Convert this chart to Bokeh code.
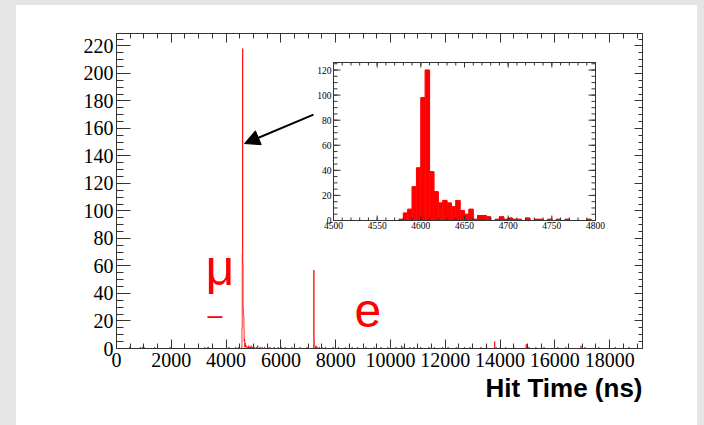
import numpy as np
from bokeh.plotting import figure
from bokeh.layouts import row, column
from bokeh.models import (LinearAxis, FixedTicker, Arrow, NormalHead, Label,
                          Title, Spacer, Range1d)
from bokeh.embed import file_html
from bokeh.resources import INLINE

# ---------------- data ----------------
# main histogram: 10 ns bins, only the non-empty bins (left edge, counts)
MAIN_BIN = 10
MAIN_XMAX = 19200
main_bin_left = [
    480, 870, 950, 1000, 1390, 1950, 3220, 3330, 3350, 4100, 4350, 4460,
    4570, 4580, 4590, 4600, 4610, 4620, 4630, 4640, 4650, 4660, 4670, 4680,
    4690, 4700, 4710, 4720, 4730, 4740, 4750, 4760, 4790,
    4820, 4850, 4880, 4910, 4960, 5020, 5100, 5150, 5230, 5310, 5400, 5520,
    5600, 5750, 5900, 6020, 6150, 6400, 6700, 6950,
    7190, 7200, 7210, 7220, 7230, 7250, 7280, 7330, 7400, 7500, 7620,
    7900, 8100, 8350, 8600, 8800, 9100, 9400, 9650, 9900, 10200, 10400, 10450,
    10700, 10850, 11100, 11400, 11600, 11900, 12100, 12400, 12700, 12900,
    13300, 13500, 13800, 13850, 14000, 14200, 14500, 14950, 15000, 15050,
    15300, 15600, 16100, 16400, 16950, 17100, 17600, 18200, 18700,
]
main_counts = [
    1, 1, 1, 1, 1, 1, 1, 1, 1, 1, 1, 1,
    1, 15, 69, 218, 62, 30, 25, 24, 14, 5, 7, 1,
    4, 3, 1, 2, 2, 1, 1, 1, 1,
    2, 1, 1, 2, 1, 1, 1, 2, 1, 1, 1, 1,
    1, 1, 1, 1, 1, 1, 1, 1,
    3, 57, 6, 3, 2, 1, 2, 1, 1, 1, 1,
    1, 1, 1, 1, 1, 1, 1, 1, 1, 1, 2, 1,
    1, 1, 1, 1, 1, 1, 1, 1, 1, 1,
    1, 1, 5, 1, 1, 1, 1, 3, 1, 1,
    1, 1, 1, 1, 2, 1, 1, 1, 1,
]

# inset histogram: 5 ns bins from 4500 to 4800
INSET_START = 4500
INSET_END = 4800
INSET_BIN = 5
INSET_YMAX = 126
inset_counts = [
    0, 0, 0, 0, 0, 0, 0, 0, 0, 0,
    0, 0, 0, 0, 0, 1, 6, 9, 27, 42,
    98, 120, 39, 23, 14, 16, 14, 11, 16, 8,
    5, 9, 1, 4, 4, 3, 0, 1, 3, 1,
    2, 1, 1, 0, 2, 0, 1, 1, 0, 1,
    0, 1, 0, 1, 0, 0, 0, 0, 1, 0,
]

main_xticks = list(range(0, 18001, 2000))
main_xminor = list(range(0, 19201, 500))
main_yticks = list(range(0, 221, 20))
main_yminor = list(range(0, 226, 5))
inset_xticks = list(range(4500, 4801, 50))
inset_xminor = list(range(4500, 4801, 10))
inset_yticks = list(range(0, 121, 20))
inset_yminor = list(range(0, 126, 5))

RED = "#ff0000"
FRAME = "#333333"
GRAY = "#e5e5e5"
SERIF = "Liberation Serif"
SANS = "Liberation Sans"

# full histogram arrays from the sparse lists
nbins = MAIN_XMAX // MAIN_BIN
full = np.zeros(nbins)
full[np.array(main_bin_left) // MAIN_BIN] = main_counts
edges = np.arange(nbins + 1) * MAIN_BIN
step_y = np.append(full, full[-1])

in_counts = np.array(inset_counts, dtype=float)
in_left = INSET_START + np.arange(len(in_counts)) * INSET_BIN
in_right = in_left + INSET_BIN

# ---------------- layout geometry (pixels) ----------------
W, H = 681, 420
FL, FR, FT, FB = 100, 626, 28, 343          # main frame inside figure
IL, IR, IT, IB = 317, 579, 57, 215          # inset frame inside figure


def style_axis(ax, major_in, minor_in, ticks, font_size=None):
    ax.major_tick_in = major_in
    ax.major_tick_out = 0
    ax.minor_tick_in = minor_in
    ax.minor_tick_out = 0
    ax.axis_line_color = FRAME
    ax.major_tick_line_color = FRAME
    ax.minor_tick_line_color = FRAME
    ax.major_label_text_font = SERIF
    ax.major_label_text_color = "black"
    if font_size:
        ax.major_label_text_font_size = font_size
    else:
        ax.major_label_overrides = {t: "" for t in ticks}


# ---------------- main plot ----------------
p = figure(width=W, height=H, x_range=(0, MAIN_XMAX), y_range=(0, 229),
           output_backend="svg", toolbar_location=None,
           min_border_left=FL, min_border_right=W - FR,
           min_border_top=FT, min_border_bottom=H - FB,
           background_fill_color="white", border_fill_color="white",
           outline_line_color=FRAME)
p.grid.visible = False

p.xaxis.ticker = FixedTicker(ticks=main_xticks, minor_ticks=main_xminor)
p.yaxis.ticker = FixedTicker(ticks=main_yticks, minor_ticks=main_yminor)
style_axis(p.xaxis[0], 9, 5, main_xticks, "20px")
style_axis(p.yaxis[0], 14, 7, main_yticks, "20px")
p.xaxis.major_label_standoff = 4
p.yaxis.major_label_standoff = 3

top_ax = LinearAxis(ticker=FixedTicker(ticks=main_xticks, minor_ticks=main_xminor))
style_axis(top_ax, 9, 5, main_xticks)
p.add_layout(top_ax, "above")
right_ax = LinearAxis(ticker=FixedTicker(ticks=main_yticks, minor_ticks=main_yminor))
style_axis(right_ax, 8, 4, main_yticks)
p.add_layout(right_ax, "right")

p.step(edges, step_y, mode="after", line_color=RED, line_width=1, line_alpha=0.8)

p.add_layout(Title(text="Hit Time (ns)", align="right", text_font=SANS,
                   text_font_style="bold", text_font_size="26px",
                   text_color="black", standoff=2), "below")

p.add_layout(Arrow(end=NormalHead(size=15, fill_color="black", line_color="black"),
                   x_start=7190, y_start=170, x_end=4672, y_end=149,
                   line_color="black", line_width=2))

p.add_layout(Label(x=3250, y=58.2, text="μ", text_font=SANS, text_font_size="50px",
                   text_color=RED, text_align="left", text_baseline="alphabetic"))
p.add_layout(Label(x=3595, y=24.4, text="–", text_font=SANS, text_font_size="27px",
                   text_color=RED, text_align="center", text_baseline="middle"))
p.add_layout(Label(x=8690, y=27.6, text="e", text_font=SANS, text_font_size="48px",
                   text_color=RED, text_align="left", text_baseline="alphabetic"))
# the minus belonging to "e" sits just below the frame
p.add_layout(Label(x=8852, y=-6.3, text="–", text_font=SANS, text_font_size="15px",
                   text_font_style="bold", text_color=RED, level="overlay",
                   text_align="center", text_baseline="middle"))

# ---------------- inset (own ranges mapped onto a sub-box of the frame) -------
ns_per_px = (INSET_END - INSET_START) / (IR - IL)
u_per_px = INSET_YMAX / (IB - IT)
p.extra_x_ranges = {"ix": Range1d(INSET_START - (IL - FL) * ns_per_px,
                                  INSET_END + (FR - IR) * ns_per_px)}
p.extra_y_ranges = {"iy": Range1d(0 - (FB - IB) * u_per_px,
                                  INSET_YMAX + (IT - FT) * u_per_px)}
R = dict(x_range_name="ix", y_range_name="iy")

p.quad(left=INSET_START, right=INSET_END, bottom=0, top=INSET_YMAX,
       fill_color="white", line_color=None, **R)
p.quad(left=in_left, right=in_right, bottom=0, top=in_counts,
       fill_color=RED, line_color=RED, line_width=0.6, **R)
p.step(np.append(in_left, in_right[-1]), np.append(in_counts, in_counts[-1]),
       mode="after", line_color=RED, line_width=1, **R)

# inset ticks (lengths in pixels converted to inset units)
xmaj, xmin_ = 5 * u_per_px, 3 * u_per_px
ymaj, ymin_ = 7 * ns_per_px, 4 * ns_per_px
xt = np.array(inset_xticks, dtype=float)
xm = np.array(inset_xminor, dtype=float)
yt = np.array(inset_yticks, dtype=float)
ym = np.array(inset_yminor, dtype=float)
seg_kw = dict(line_color=FRAME, line_width=1, **R)
p.segment(x0=xt, y0=0, x1=xt, y1=xmaj, **seg_kw)
p.segment(x0=xm, y0=0, x1=xm, y1=xmin_, **seg_kw)
p.segment(x0=xt, y0=INSET_YMAX, x1=xt, y1=INSET_YMAX - xmaj, **seg_kw)
p.segment(x0=xm, y0=INSET_YMAX, x1=xm, y1=INSET_YMAX - xmin_, **seg_kw)
p.segment(x0=INSET_START, y0=yt, x1=INSET_START + ymaj, y1=yt, **seg_kw)
p.segment(x0=INSET_START, y0=ym, x1=INSET_START + ymin_, y1=ym, **seg_kw)
p.segment(x0=INSET_END, y0=yt, x1=INSET_END - ymaj, y1=yt, **seg_kw)
p.segment(x0=INSET_END, y0=ym, x1=INSET_END - ymin_, y1=ym, **seg_kw)
# inset frame
p.quad(left=INSET_START, right=INSET_END, bottom=0, top=INSET_YMAX,
       fill_color=None, line_color=FRAME, line_width=1, **R)

# inset tick labels
p.text(x=xt, y=0, text=[str(int(v)) for v in inset_xticks], y_offset=1,
       text_align="center", text_baseline="top", text_font=SERIF,
       text_font_size="9.5px", text_color="black", **R)
p.text(x=INSET_START, y=yt, text=[str(int(v)) for v in inset_yticks], x_offset=-2,
       text_align="right", text_baseline="middle", text_font=SERIF,
       text_font_size="9.5px", text_color="black", **R)

top_strip = Spacer(width=704, height=5, styles={"background-color": GRAY})
left_strip = Spacer(width=16, height=H, styles={"background-color": GRAY})
right_strip = Spacer(width=7, height=H, styles={"background-color": GRAY})

layout = column(top_strip, row(left_strip, p, right_strip))

open("out.html", "w").write(file_html(layout, INLINE))
